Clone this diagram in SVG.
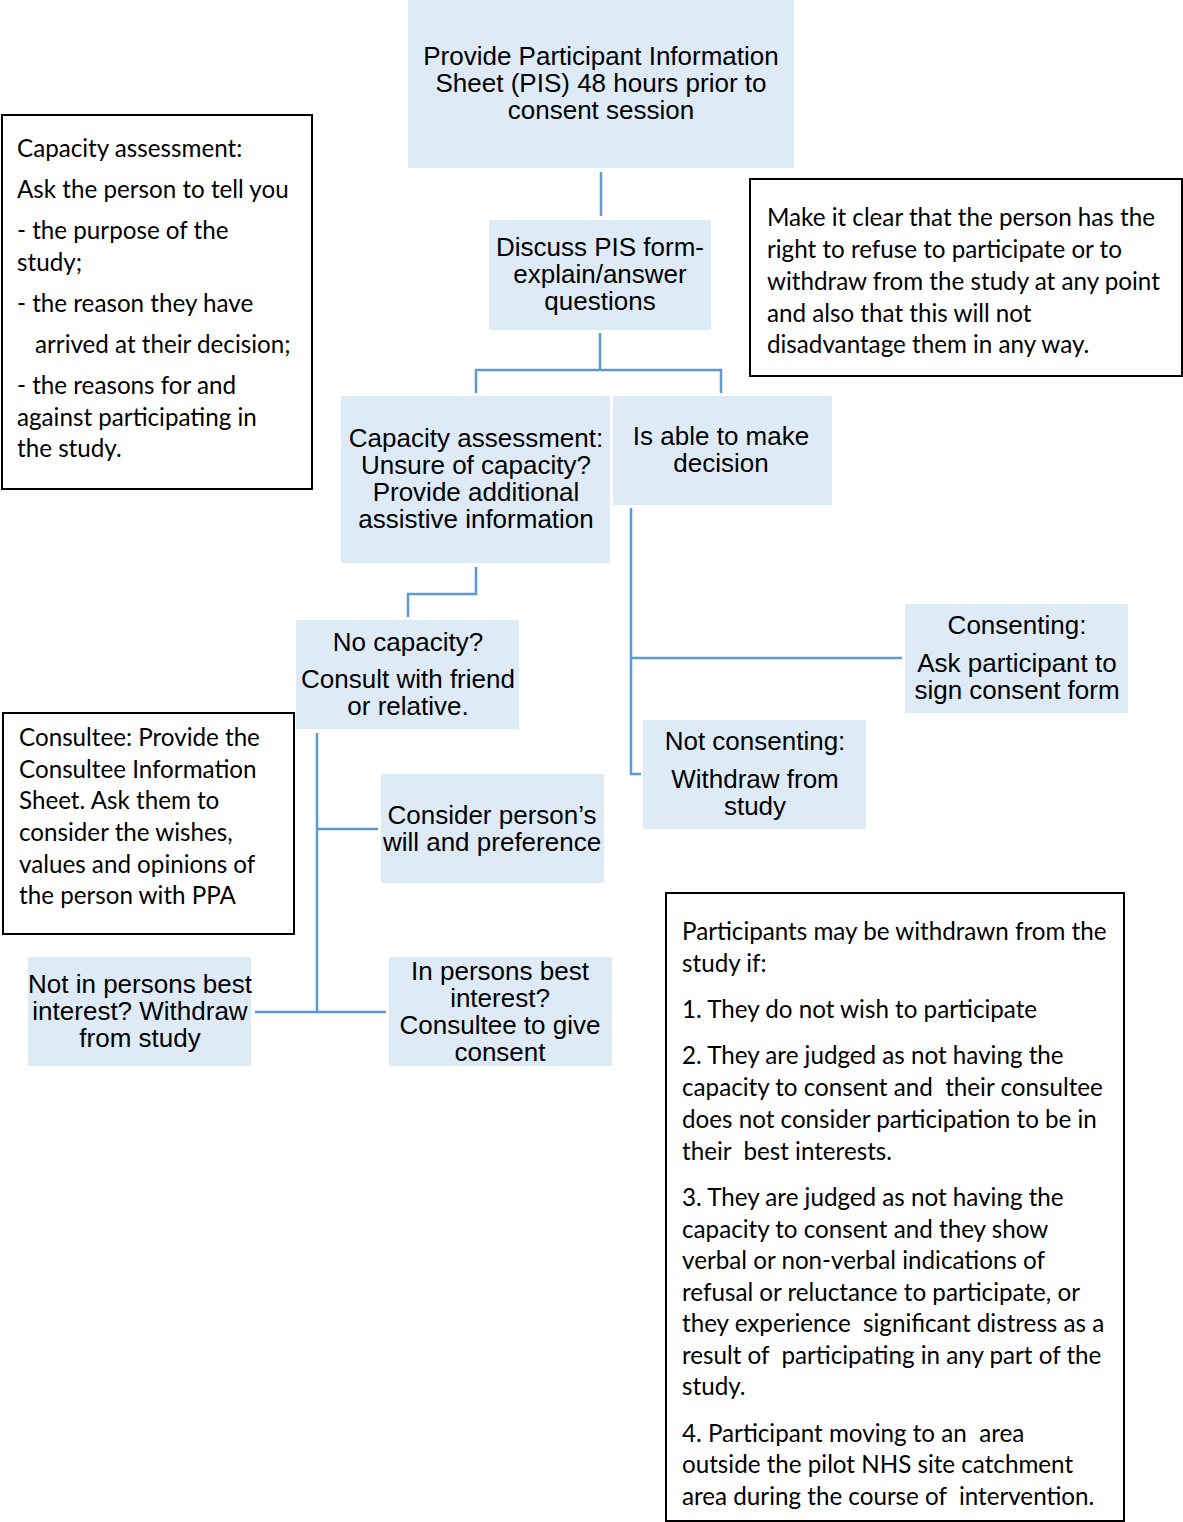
<svg xmlns="http://www.w3.org/2000/svg" width="1183" height="1522" viewBox="0 0 1183 1522">
<style>
.b{fill:#deebf7;stroke:none}
.w{fill:#ffffff;stroke:#000000;stroke-width:2}
.t{font-family:"Liberation Sans",Arial,sans-serif;font-size:26px;fill:#000;text-anchor:middle}
.c{font-family:Lato,"Open Sans",sans-serif;font-size:24.2px;fill:#000}
.l{fill:none;stroke:#5b9bd5;stroke-width:2.5}
</style>
<rect width="1183" height="1522" fill="#fff"/>
<g id="connectors">
<path class="l" d="M601,172 V216"/>
<path class="l" d="M600,333 V370 M476,393 V370 H721 V393"/>
<path class="l" d="M476,567 V594 H408 V617"/>
<path class="l" d="M631,508 V774 H641 M631,658 H902"/>
<path class="l" d="M317,733 V1012 M317,829 H378 M255,1012 H386"/>
</g>
<g id="n1"><rect class="b" x="408" y="0" width="386" height="168"/>
<text class="t"><tspan x="601" y="65">Provide Participant Information</tspan><tspan x="601" y="92">Sheet (PIS) 48 hours prior to</tspan><tspan x="601" y="119">consent session</tspan></text></g>
<g id="n2"><rect class="b" x="489" y="220" width="222" height="110"/>
<text class="t"><tspan x="600" y="256">Discuss PIS form-</tspan><tspan x="600" y="283">explain/answer</tspan><tspan x="600" y="310">questions</tspan></text></g>
<g id="n3"><rect class="b" x="341" y="396" width="269" height="167"/>
<text class="t"><tspan x="476" y="447">Capacity assessment:</tspan><tspan x="476" y="474">Unsure of capacity?</tspan><tspan x="476" y="501">Provide additional</tspan><tspan x="476" y="528">assistive information</tspan></text></g>
<g id="n4"><rect class="b" x="613" y="396" width="219" height="109"/>
<text class="t"><tspan x="721" y="445">Is able to make</tspan><tspan x="721" y="472">decision</tspan></text></g>
<g id="n5"><rect class="b" x="296" y="620" width="223" height="109"/>
<text class="t"><tspan x="408" y="651">No capacity?</tspan><tspan x="408" y="688">Consult with friend</tspan><tspan x="408" y="715">or relative.</tspan></text></g>
<g id="n6"><rect class="b" x="905" y="604" width="223" height="109"/>
<text class="t"><tspan x="1017" y="634">Consenting:</tspan><tspan x="1017" y="672">Ask participant to</tspan><tspan x="1017" y="699">sign consent form</tspan></text></g>
<g id="n7"><rect class="b" x="643" y="720" width="223" height="109"/>
<text class="t"><tspan x="755" y="750">Not consenting:</tspan><tspan x="755" y="788">Withdraw from</tspan><tspan x="755" y="815">study</tspan></text></g>
<g id="n8"><rect class="b" x="381" y="774" width="223" height="109"/>
<text class="t"><tspan x="492" y="824">Consider person’s</tspan><tspan x="492" y="851">will and preference</tspan></text></g>
<g id="n9"><rect class="b" x="28" y="957" width="223" height="109"/>
<text class="t"><tspan x="140" y="993">Not in persons best</tspan><tspan x="140" y="1020">interest? Withdraw</tspan><tspan x="140" y="1047">from study</tspan></text></g>
<g id="n10"><rect class="b" x="389" y="957" width="223" height="109"/>
<text class="t"><tspan x="500" y="980">In persons best</tspan><tspan x="500" y="1007">interest?</tspan><tspan x="500" y="1034">Consultee to give</tspan><tspan x="500" y="1061">consent</tspan></text></g>
<g id="noteA"><rect class="w" x="2" y="115" width="310" height="374"/>
<text class="c"><tspan x="17" y="157">Capacity assessment:</tspan><tspan x="17" y="198">Ask the person to tell you</tspan><tspan x="17" y="239">- the purpose of the</tspan><tspan x="17" y="271">study;</tspan><tspan x="17" y="312">- the reason they have</tspan><tspan x="35" y="353">arrived at their decision;</tspan><tspan x="17" y="394">- the reasons for and</tspan><tspan x="17" y="426">against participating in</tspan><tspan x="17" y="457">the study.</tspan></text></g>
<g id="noteB"><rect class="w" x="750" y="179" width="432" height="197"/>
<text class="c"><tspan x="767" y="226">Make it clear that the person has the</tspan><tspan x="767" y="258">right to refuse to participate or to</tspan><tspan x="767" y="290">withdraw from the study at any point</tspan><tspan x="767" y="322">and also that this will not</tspan><tspan x="767" y="353">disadvantage them in any way.</tspan></text></g>
<g id="noteC"><rect class="w" x="3" y="713" width="291" height="221"/>
<text class="c"><tspan x="19" y="746">Consultee: Provide the</tspan><tspan x="19" y="778">Consultee Information</tspan><tspan x="19" y="809">Sheet. Ask them to</tspan><tspan x="19" y="841">consider the wishes,</tspan><tspan x="19" y="873">values and opinions of</tspan><tspan x="19" y="904">the person with PPA</tspan></text></g>
<g id="noteD"><rect class="w" x="666" y="893" width="458" height="628"/>
<text class="c" xml:space="preserve"><tspan x="682" y="940">Participants may be withdrawn from the</tspan><tspan x="682" y="972">study if:</tspan><tspan x="682" y="1018">1. They do not wish to participate</tspan><tspan x="682" y="1064">2. They are judged as not having the</tspan><tspan x="682" y="1096">capacity to consent and  their consultee</tspan><tspan x="682" y="1128">does not consider participation to be in</tspan><tspan x="682" y="1160">their  best interests.</tspan><tspan x="682" y="1206">3. They are judged as not having the</tspan><tspan x="682" y="1238">capacity to consent and they show</tspan><tspan x="682" y="1269">verbal or non-verbal indications of</tspan><tspan x="682" y="1301">refusal or reluctance to participate, or</tspan><tspan x="682" y="1332">they experience  significant distress as a</tspan><tspan x="682" y="1364">result of  participating in any part of the</tspan><tspan x="682" y="1395">study.</tspan><tspan x="682" y="1442">4. Participant moving to an  area</tspan><tspan x="682" y="1473">outside the pilot NHS site catchment</tspan><tspan x="682" y="1505">area during the course of  intervention.</tspan></text></g>
</svg>
